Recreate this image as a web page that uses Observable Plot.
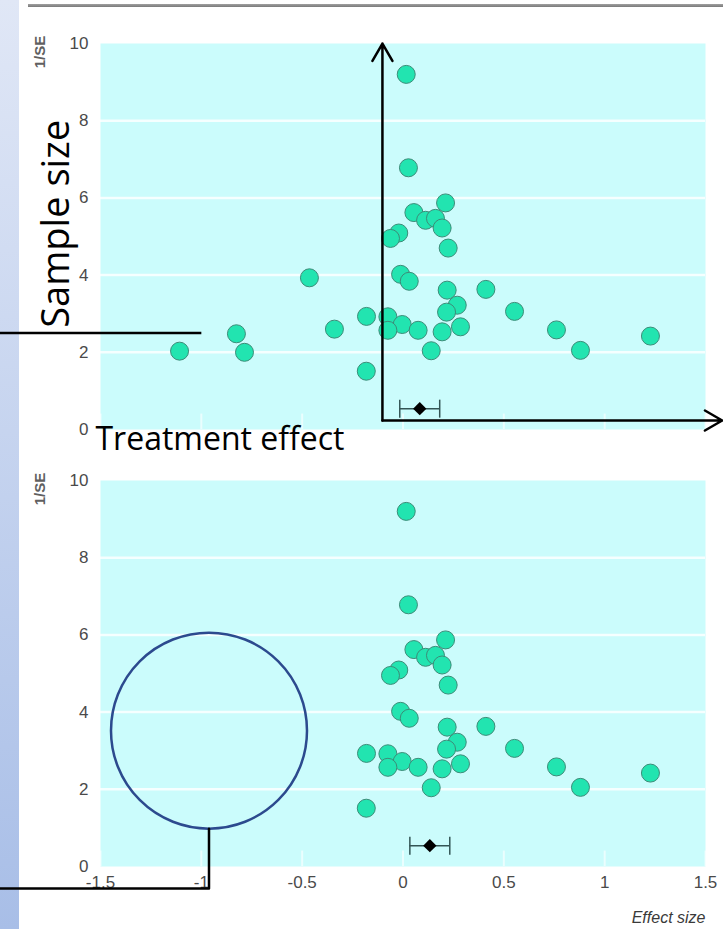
<!DOCTYPE html>
<html>
<head>
<meta charset="utf-8">
<script src="https://cdn.jsdelivr.net/npm/d3@7"></script>
<script src="https://cdn.jsdelivr.net/npm/@observablehq/plot@0.6"></script>
<style>
  html, body { margin: 0; padding: 0; background: #ffffff; }
  #page { position: relative; width: 723px; height: 929px; overflow: hidden; background: #ffffff; }
  #strip { position: absolute; left: 0; top: 0; width: 19px; height: 929px; background: linear-gradient(#e0e7f6, #a8bee7); }
  #rule { position: absolute; left: 28px; top: 4px; width: 695px; height: 3px; background: linear-gradient(#a0a0a0, #7a7a7a); }
  .chart { position: absolute; left: 0; }
</style>
</head>
<body>
<div id="page"><div id="strip"></div><div id="rule"></div></div>
<script>
// ---- data ----
// studies present in both panels: effect size and precision (1/SE)
const effectShared = [0.016, 0.027, 0.211, 0.054, 0.112, 0.161, 0.194, -0.021, -0.062, 0.224,
  -0.012, 0.031, 0.219, 0.411, 0.269, 0.216, -0.181, -0.075, -0.004, 0.285,
  -0.075, 0.075, 0.194, 0.14, -0.182, 0.553, 0.761, 0.88, 1.227];
const invSEShared = [9.2, 6.78, 5.87, 5.62, 5.42, 5.47, 5.22, 5.09, 4.95, 4.70,
  4.02, 3.84, 3.61, 3.63, 3.22, 3.04, 2.93, 2.92, 2.72, 2.66,
  2.57, 2.57, 2.53, 2.04, 1.51, 3.06, 2.58, 2.05, 2.42];
// small negative studies shown only in the upper (unbiased) panel
const effectMissing = [-1.108, -0.826, -0.786, -0.464, -0.34];
const invSEMissing = [2.03, 2.48, 2.0, 3.93, 2.6];
// pooled estimates [estimate, lower, upper, row]
const pooledTop = [0.083, -0.016, 0.182, 0.54];
const pooledBottom = [0.133, 0.034, 0.232, 0.54];
// axes
const xTicks = [-1.5, -1, -0.5, 0, 0.5, 1, 1.5];
const xTickLabels = ["-1.5", "-1", "-0.5", "0", "0.5", "1", "1.5"];
const yTicks = [0, 2, 4, 6, 8, 10];
const yTickLabels = ["0", "2", "4", "6", "8", "10"];
const yGrid = [2, 4, 6, 8];
const yAxisTitle = "1/SE";
const xAxisTitle = "Effect size";
const labelTreatment = "Treatment effect";
const labelSample = "Sample size";
// annotation anchors (data units)
const arrowsTop = [
  {x1: -0.102, y1: 0.233, x2: -0.102, y2: 10.0},
  {x1: -0.102, y1: 0.233, x2: 1.583, y2: 0.233}
];
const leaderTop = [{x1: -2.05, y1: 2.5, x2: -1.0, y2: 2.5}];
const circleBottom = [{x: -0.962, y: 3.52}];
const leaderBottom = [{x: -0.962, y: 0.98}, {x: -0.962, y: -0.57}, {x: -2.05, y: -0.57}];

// ---- build ----
const shared = effectShared.map((e, i) => ({effect: e, invSE: invSEShared[i]}));
const missing = effectMissing.map((e, i) => ({effect: e, invSE: invSEMissing[i]}));
const toPooled = p => [{est: p[0], lo: p[1], hi: p[2], y: p[3]}];

const capSymbol = {
  draw(ctx, size) {
    const r = Math.sqrt(size / Math.PI);
    ctx.moveTo(0, -r);
    ctx.lineTo(0, r);
  }
};

const frameFill = "#cbfcfc";
const dotFill = "#22e4b0";
const dotStroke = "#3c8c78";
const tickColor = "#4a4a4a";

function panelMarks(points, pooled) {
  return [
    Plot.frame({fill: frameFill, stroke: "none"}),
    Plot.ruleY(yGrid, {stroke: "white", strokeWidth: 2.5, strokeOpacity: 0.8}),
    Plot.ruleX(xTicks, {y1: 0, y2: 0.4, stroke: "white", strokeWidth: 2, strokeOpacity: 0.6}),
    Plot.axisY(yTicks, {tickSize: 0, tickPadding: 12, label: null, fill: tickColor,
      tickFormat: d => yTickLabels[yTicks.indexOf(d)]}),
    Plot.text([yAxisTitle], {x: -1.773, y: 9.78, text: d => d, rotate: -90, textAnchor: "middle",
      lineAnchor: "bottom", fontSize: 15, fontWeight: "bold", fill: "#606060"}),
    Plot.dot(points, {x: "effect", y: "invSE", r: 9, fill: dotFill, stroke: dotStroke, strokeWidth: 1}),
    Plot.ruleY(pooled, {x1: "lo", x2: "hi", y: "y", stroke: "#335555", strokeWidth: 1.5}),
    Plot.dot(pooled, {x: "lo", y: "y", symbol: capSymbol, r: 9, fill: "none", stroke: "#335555", strokeWidth: 1.5}),
    Plot.dot(pooled, {x: "hi", y: "y", symbol: capSymbol, r: 9, fill: "none", stroke: "#335555", strokeWidth: 1.5}),
    Plot.dot(pooled, {x: "est", y: "y", symbol: "diamond2", r: 6, fill: "black", stroke: "none"})
  ];
}

const commonStyle = {
  background: "transparent", overflow: "visible",
  fontFamily: "'Liberation Sans', Arial, sans-serif", fontSize: "17px", color: tickColor
};

const topChart = Plot.plot({
  width: 723, height: 470,
  marginLeft: 100, marginRight: 18, marginTop: 43, marginBottom: 41,
  x: {domain: [-1.5, 1.5], axis: null},
  y: {domain: [0, 10], axis: null},
  style: commonStyle,
  marks: [
    ...panelMarks([...shared, ...missing], toPooled(pooledTop)),
    Plot.arrow(arrowsTop, {x1: "x1", y1: "y1", x2: "x2", y2: "y2", stroke: "black",
      strokeWidth: 2.5, headLength: 12, headAngle: 60}),
    Plot.link(leaderTop, {x1: "x1", y1: "y1", x2: "x2", y2: "y2", stroke: "black", strokeWidth: 2.5}),
    Plot.text([labelTreatment], {x: -1.525, y: -0.544, text: d => d, textAnchor: "start",
      lineAnchor: "bottom", fontSize: 32, fontFamily: "'Open Sans', sans-serif", fill: "black"}),
    Plot.text([labelSample], {x: -1.655, y: 5.33, text: d => d, rotate: -90, textAnchor: "middle",
      lineAnchor: "bottom", fontSize: 38, fontFamily: "'Open Sans', sans-serif", fill: "black"})
  ]
});

const bottomChart = Plot.plot({
  width: 723, height: 492,
  marginLeft: 100, marginRight: 18, marginTop: 43, marginBottom: 63,
  x: {domain: [-1.5, 1.5], axis: null},
  y: {domain: [0, 10], axis: null},
  style: commonStyle,
  marks: [
    ...panelMarks(shared, toPooled(pooledBottom)),
    Plot.axisX(xTicks, {tickSize: 0, tickPadding: 9, label: null, fill: tickColor,
      tickFormat: d => xTickLabels[xTicks.indexOf(d)]}),
    Plot.text([xAxisTitle], {frameAnchor: "bottom-right", dy: 56, text: d => d, textAnchor: "end",
      lineAnchor: "bottom", fontSize: 16, fontStyle: "italic", fill: "#3a3a3a"}),
    Plot.dot(circleBottom, {x: "x", y: "y", r: 98, fill: "none", stroke: "#2c4a8e", strokeWidth: 2.5}),
    Plot.line(leaderBottom, {x: "x", y: "y", stroke: "black", strokeWidth: 2.5})
  ]
});

topChart.classList.add("chart");
bottomChart.classList.add("chart");
topChart.style.top = "0px";
bottomChart.style.top = "437px";
const page = document.getElementById("page");
page.appendChild(bottomChart);
page.appendChild(topChart);
</script>
</body>
</html>
